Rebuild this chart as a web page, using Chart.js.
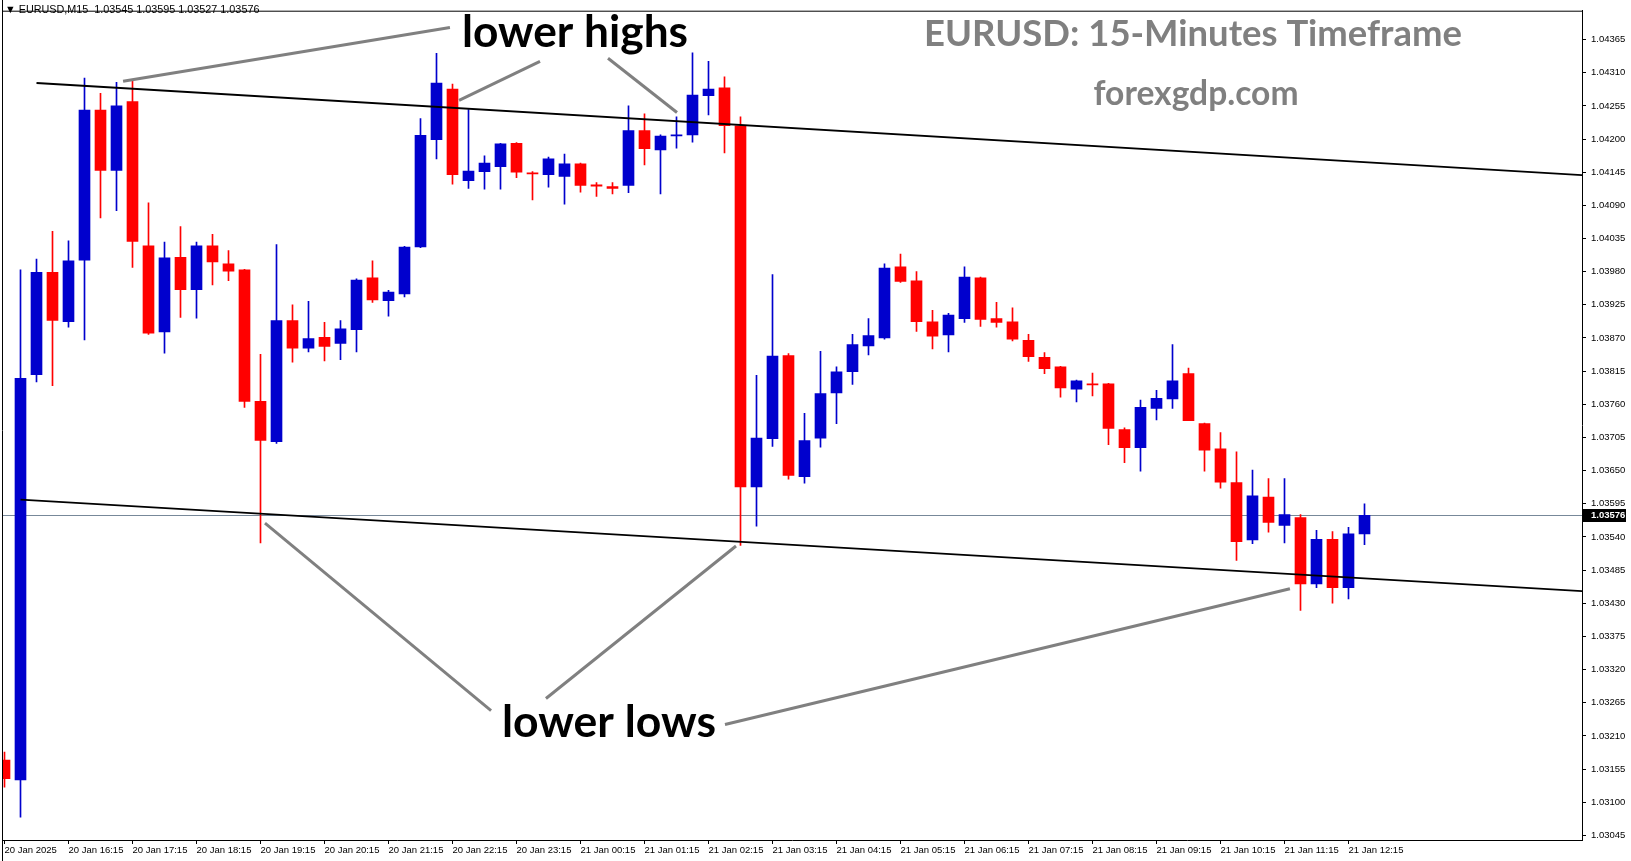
<!DOCTYPE html>
<html>
<head>
<meta charset="utf-8">
<title>EURUSD M15</title>
<script src="https://cdn.jsdelivr.net/npm/chart.js@4.4.1/dist/chart.umd.min.js"></script>
<style>
  html, body { margin: 0; padding: 0; background: #fff; }
  #wrap { width: 1631px; height: 861px; position: relative; }
</style>
</head>
<body>
<div id="wrap"><canvas id="chart"></canvas></div>
<script>
// OHLC of the 15 minute bars, left to right
const opens = [
  1.03170, 1.03137, 1.03809, 1.03979, 1.03897, 1.03999, 1.04248, 1.04148, 1.04262, 1.04023,
  1.03880, 1.04004, 1.03950, 1.04023, 1.03993, 1.03983, 1.03765, 1.03698, 1.03899, 1.03853,
  1.03871, 1.03861, 1.03884, 1.03970, 1.03932, 1.03943, 1.04021, 1.04199, 1.04283, 1.04131,
  1.04146, 1.04154, 1.04193, 1.04144, 1.04141, 1.04138, 1.04159, 1.04124, 1.04121, 1.04123,
  1.04214, 1.04182, 1.04205, 1.04207, 1.04272, 1.04285, 1.04222, 1.03623, 1.03703, 1.03841,
  1.03640, 1.03704, 1.03779, 1.03814, 1.03857, 1.03870, 1.03988, 1.03965, 1.03897, 1.03875,
  1.03902, 1.03970, 1.03902, 1.03897, 1.03866, 1.03838, 1.03822, 1.03785, 1.03794, 1.03794,
  1.03718, 1.03688, 1.03753, 1.03769, 1.03811, 1.03728, 1.03686, 1.03630, 1.03535, 1.03606,
  1.03559, 1.03572, 1.03462, 1.03536, 1.03456, 1.03545
];
const highs = [
  1.03183, 1.03983, 1.04001, 1.04047, 1.04031, 1.04301, 1.04276, 1.04294, 1.04297, 1.04094,
  1.04029, 1.04055, 1.04029, 1.04042, 1.04015, 1.03984, 1.03843, 1.04025, 1.03925, 1.03931,
  1.03896, 1.03899, 1.03968, 1.03998, 1.03949, 1.04022, 1.04234, 1.04342, 1.04291, 1.04249,
  1.04172, 1.04193, 1.04194, 1.04146, 1.04170, 1.04175, 1.04160, 1.04128, 1.04128, 1.04255,
  1.04242, 1.04207, 1.04237, 1.04343, 1.04329, 1.04303, 1.04237, 1.03808, 1.03975, 1.03844,
  1.03745, 1.03848, 1.03822, 1.03876, 1.03902, 1.03993, 1.04009, 1.03980, 1.03916, 1.03911,
  1.03988, 1.03971, 1.03929, 1.03920, 1.03876, 1.03846, 1.03823, 1.03800, 1.03812, 1.03795,
  1.03721, 1.03767, 1.03783, 1.03859, 1.03820, 1.03729, 1.03713, 1.03681, 1.03651, 1.03637,
  1.03637, 1.03577, 1.03551, 1.03549, 1.03556, 1.03595
];
const lows = [
  1.03125, 1.03075, 1.03797, 1.03791, 1.03888, 1.03867, 1.04069, 1.04081, 1.03987, 1.03876,
  1.03845, 1.03904, 1.03903, 1.03958, 1.03965, 1.03755, 1.03530, 1.03695, 1.03830, 1.03847,
  1.03832, 1.03834, 1.03847, 1.03929, 1.03906, 1.03938, 1.04020, 1.04167, 1.04125, 1.04118,
  1.04117, 1.04117, 1.04136, 1.04099, 1.04120, 1.04092, 1.04112, 1.04105, 1.04109, 1.04111,
  1.04157, 1.04109, 1.04185, 1.04195, 1.04240, 1.04177, 1.03526, 1.03558, 1.03690, 1.03636,
  1.03629, 1.03689, 1.03728, 1.03793, 1.03842, 1.03868, 1.03962, 1.03881, 1.03852, 1.03847,
  1.03896, 1.03889, 1.03888, 1.03865, 1.03831, 1.03811, 1.03772, 1.03764, 1.03774, 1.03693,
  1.03663, 1.03649, 1.03734, 1.03753, 1.03733, 1.03649, 1.03621, 1.03501, 1.03529, 1.03548,
  1.03530, 1.03418, 1.03456, 1.03430, 1.03437, 1.03527
];
const closes = [
  1.03139, 1.03803, 1.03979, 1.03899, 1.03998, 1.04248, 1.04148, 1.04255, 1.04030, 1.03878,
  1.04003, 1.03950, 1.04023, 1.03996, 1.03981, 1.03765, 1.03700, 1.03899, 1.03853, 1.03869,
  1.03856, 1.03885, 1.03966, 1.03933, 1.03946, 1.04021, 1.04206, 1.04293, 1.04141, 1.04147,
  1.04160, 1.04192, 1.04145, 1.04142, 1.04167, 1.04159, 1.04123, 1.04122, 1.04118, 1.04214,
  1.04184, 1.04205, 1.04207, 1.04273, 1.04283, 1.04222, 1.03623, 1.03704, 1.03840, 1.03642,
  1.03700, 1.03778, 1.03814, 1.03859, 1.03874, 1.03986, 1.03964, 1.03897, 1.03873, 1.03908,
  1.03971, 1.03901, 1.03896, 1.03868, 1.03839, 1.03819, 1.03787, 1.03799, 1.03792, 1.03720,
  1.03688, 1.03755, 1.03770, 1.03799, 1.03733, 1.03684, 1.03631, 1.03532, 1.03608, 1.03564,
  1.03577, 1.03462, 1.03536, 1.03456, 1.03545, 1.03576
];

// time axis: one label every 4 bars
const timeLabels = [
  '20 Jan 2025', '20 Jan 16:15', '20 Jan 17:15', '20 Jan 18:15', '20 Jan 19:15', '20 Jan 20:15',
  '20 Jan 21:15', '20 Jan 22:15', '20 Jan 23:15', '21 Jan 00:15', '21 Jan 01:15', '21 Jan 02:15',
  '21 Jan 03:15', '21 Jan 04:15', '21 Jan 05:15', '21 Jan 06:15', '21 Jan 07:15', '21 Jan 08:15',
  '21 Jan 09:15', '21 Jan 10:15', '21 Jan 11:15', '21 Jan 12:15'
];
const barsPerLabel = 4;

// price axis
const priceTicks = [
  1.03045, 1.03100, 1.03155, 1.03210, 1.03265, 1.03320, 1.03375, 1.03430, 1.03485,
  1.03540, 1.03595, 1.03650, 1.03705, 1.03760, 1.03815, 1.03870, 1.03925, 1.03980,
  1.04035, 1.04090, 1.04145, 1.04200, 1.04255, 1.04310, 1.04365
];
const lastPrice = 1.03576;
const headerText = '\u25BC EURUSD,M15  1.03545 1.03595 1.03527 1.03576';

// channel lines as [bar index, price]
const upperLine = [[2, 1.04293], [98.6, 1.04140]];
const lowerLine = [[1, 1.03602], [98.6, 1.03450]];

// callout pointers as [[bar, price], [bar, price]]
const highPointers = [
  [[7.41, 1.04296], [27.84, 1.04385]],
  [[28.41, 1.04264], [33.47, 1.04329]],
  [[37.72, 1.04334], [42.03, 1.04244]]
];
const lowPointers = [
  [[16.28, 1.03563], [30.41, 1.03252]],
  [[33.84, 1.03272], [45.72, 1.03525]],
  [[45.03, 1.03229], [80.34, 1.03454]]
];
// text anchors [bar, price] at the baseline centre
const highsLabel = { text: 'lower highs', at: [35.66, 1.04352], width: 226 };
const lowsLabel = { text: 'lower lows', at: [37.78, 1.03208], width: 214 };
const titleLabel = { text: 'EURUSD: 15-Minutes Timeframe', at: [74.28, 1.04355], width: 538 };
const siteLabel = { text: 'forexgdp.com', at: [74.47, 1.04256], width: 205 };

const bullColor = '#0000cd';
const bearColor = '#ff0000';
const candleColor = i => (closes[i] >= opens[i] ? bullColor : bearColor);
const axisFont = { family: 'Liberation Sans', size: 9.5 };

function drawFitted(ctx, label, color, scales) {
    ctx.font = 'bold 100px Lato';
    const size = 100 * label.width / ctx.measureText(label.text).width;
    ctx.font = 'bold ' + size.toFixed(2) + 'px Lato';
    ctx.fillStyle = color;
    ctx.textAlign = 'center';
    ctx.textBaseline = 'alphabetic';
    ctx.fillText(label.text, scales.x.getPixelForValue(label.at[0]), scales.y.getPixelForValue(label.at[1]));
}

const overlay = {
    id: 'overlay',
    beforeDatasetsDraw(chart) {
        const { ctx, chartArea: area, scales } = chart;
        const py = Math.round(scales.y.getPixelForValue(lastPrice)) + 0.5;
        ctx.save();
        ctx.strokeStyle = '#778899';
        ctx.lineWidth = 1;
        ctx.beginPath();
        ctx.moveTo(area.left, py);
        ctx.lineTo(area.right, py);
        ctx.stroke();
        ctx.restore();
    },
    afterDraw(chart) {
        const { ctx, chartArea: area, scales } = chart;
        ctx.save();

        // window frame
        ctx.strokeStyle = '#000';
        ctx.lineWidth = 1;
        ctx.beginPath();
        ctx.moveTo(area.left + 0.5, 0);
        ctx.lineTo(area.left + 0.5, chart.height);
        ctx.moveTo(area.left, area.top + 0.5);
        ctx.lineTo(area.right, area.top + 0.5);
        ctx.stroke();

        // callout pointers
        ctx.strokeStyle = '#808080';
        ctx.lineWidth = 3;
        highPointers.concat(lowPointers).forEach(seg => {
            ctx.beginPath();
            ctx.moveTo(scales.x.getPixelForValue(seg[0][0]), scales.y.getPixelForValue(seg[0][1]));
            ctx.lineTo(scales.x.getPixelForValue(seg[1][0]), scales.y.getPixelForValue(seg[1][1]));
            ctx.stroke();
        });

        drawFitted(ctx, highsLabel, '#000', scales);
        drawFitted(ctx, lowsLabel, '#000', scales);
        drawFitted(ctx, titleLabel, '#808080', scales);
        drawFitted(ctx, siteLabel, '#808080', scales);

        // header
        ctx.font = '10.8px "Liberation Sans"';
        ctx.fillStyle = '#000';
        ctx.textAlign = 'left';
        ctx.textBaseline = 'alphabetic';
        ctx.fillText(headerText, 5, 13);

        // current price tag on the axis
        const py = Math.round(scales.y.getPixelForValue(lastPrice));
        ctx.fillStyle = '#000';
        ctx.fillRect(area.right, py - 6, 44, 13);
        ctx.fillStyle = '#fff';
        ctx.font = 'bold 9.5px "Liberation Sans"';
        ctx.textBaseline = 'middle';
        ctx.fillText(lastPrice.toFixed(5), area.right + 9, py + 0.5);
        ctx.restore();
    }
};

new Chart(document.getElementById('chart'), {
    type: 'bar',
    data: {
        datasets: [{
            type: 'line',
            data: upperLine.map(p => ({ x: p[0], y: p[1] })),
            borderColor: '#000',
            borderWidth: 1.8,
            pointRadius: 0,
            order: 0
        }, {
            type: 'line',
            data: lowerLine.map(p => ({ x: p[0], y: p[1] })),
            borderColor: '#000',
            borderWidth: 1.8,
            pointRadius: 0,
            order: 0
        }, {
            data: highs.map((h, i) => ({ x: i, y: [lows[i], h] })),
            backgroundColor: c => candleColor(c.dataIndex),
            barThickness: 1,
            grouped: false,
            order: 2
        }, {
            data: opens.map((o, i) => ({ x: i, y: [o, closes[i]] })),
            backgroundColor: c => candleColor(c.dataIndex),
            barThickness: 11,
            minBarLength: 1,
            grouped: false,
            order: 1
        }]
    },
    options: {
        responsive: true,
        maintainAspectRatio: false,
        animation: false,
        layout: { padding: { left: 2, top: 2, right: 0, bottom: 0 } },
        plugins: {
            legend: { display: false },
            tooltip: { enabled: false }
        },
        scales: {
            x: {
                type: 'linear',
                position: 'bottom',
                offset: false,
                min: -0.15625,
                max: 98.59375,
                afterBuildTicks: s => { s.ticks = timeLabels.map((t, k) => ({ value: k * barsPerLabel })); },
                afterFit: s => { s.height = 21; },
                grid: { offset: false, drawOnChartArea: false, tickLength: 4, color: '#000' },
                border: { color: '#000' },
                ticks: {
                    align: 'start',
                    padding: 1,
                    autoSkip: false,
                    maxRotation: 0,
                    color: '#000',
                    font: axisFont,
                    callback: v => timeLabels[Math.round(v / barsPerLabel)]
                }
            },
            y: {
                type: 'linear',
                position: 'right',
                min: 1.030373,
                max: 1.044129,
                afterBuildTicks: s => { s.ticks = priceTicks.map(v => ({ value: v })); },
                afterFit: s => { s.width = 49; },
                grid: { drawOnChartArea: false, tickLength: 4, color: '#000' },
                border: { color: '#000' },
                ticks: {
                    padding: 5,
                    color: '#000',
                    font: axisFont,
                    callback: v => v.toFixed(5)
                }
            }
        }
    },
    plugins: [overlay]
});
</script>
</body>
</html>
